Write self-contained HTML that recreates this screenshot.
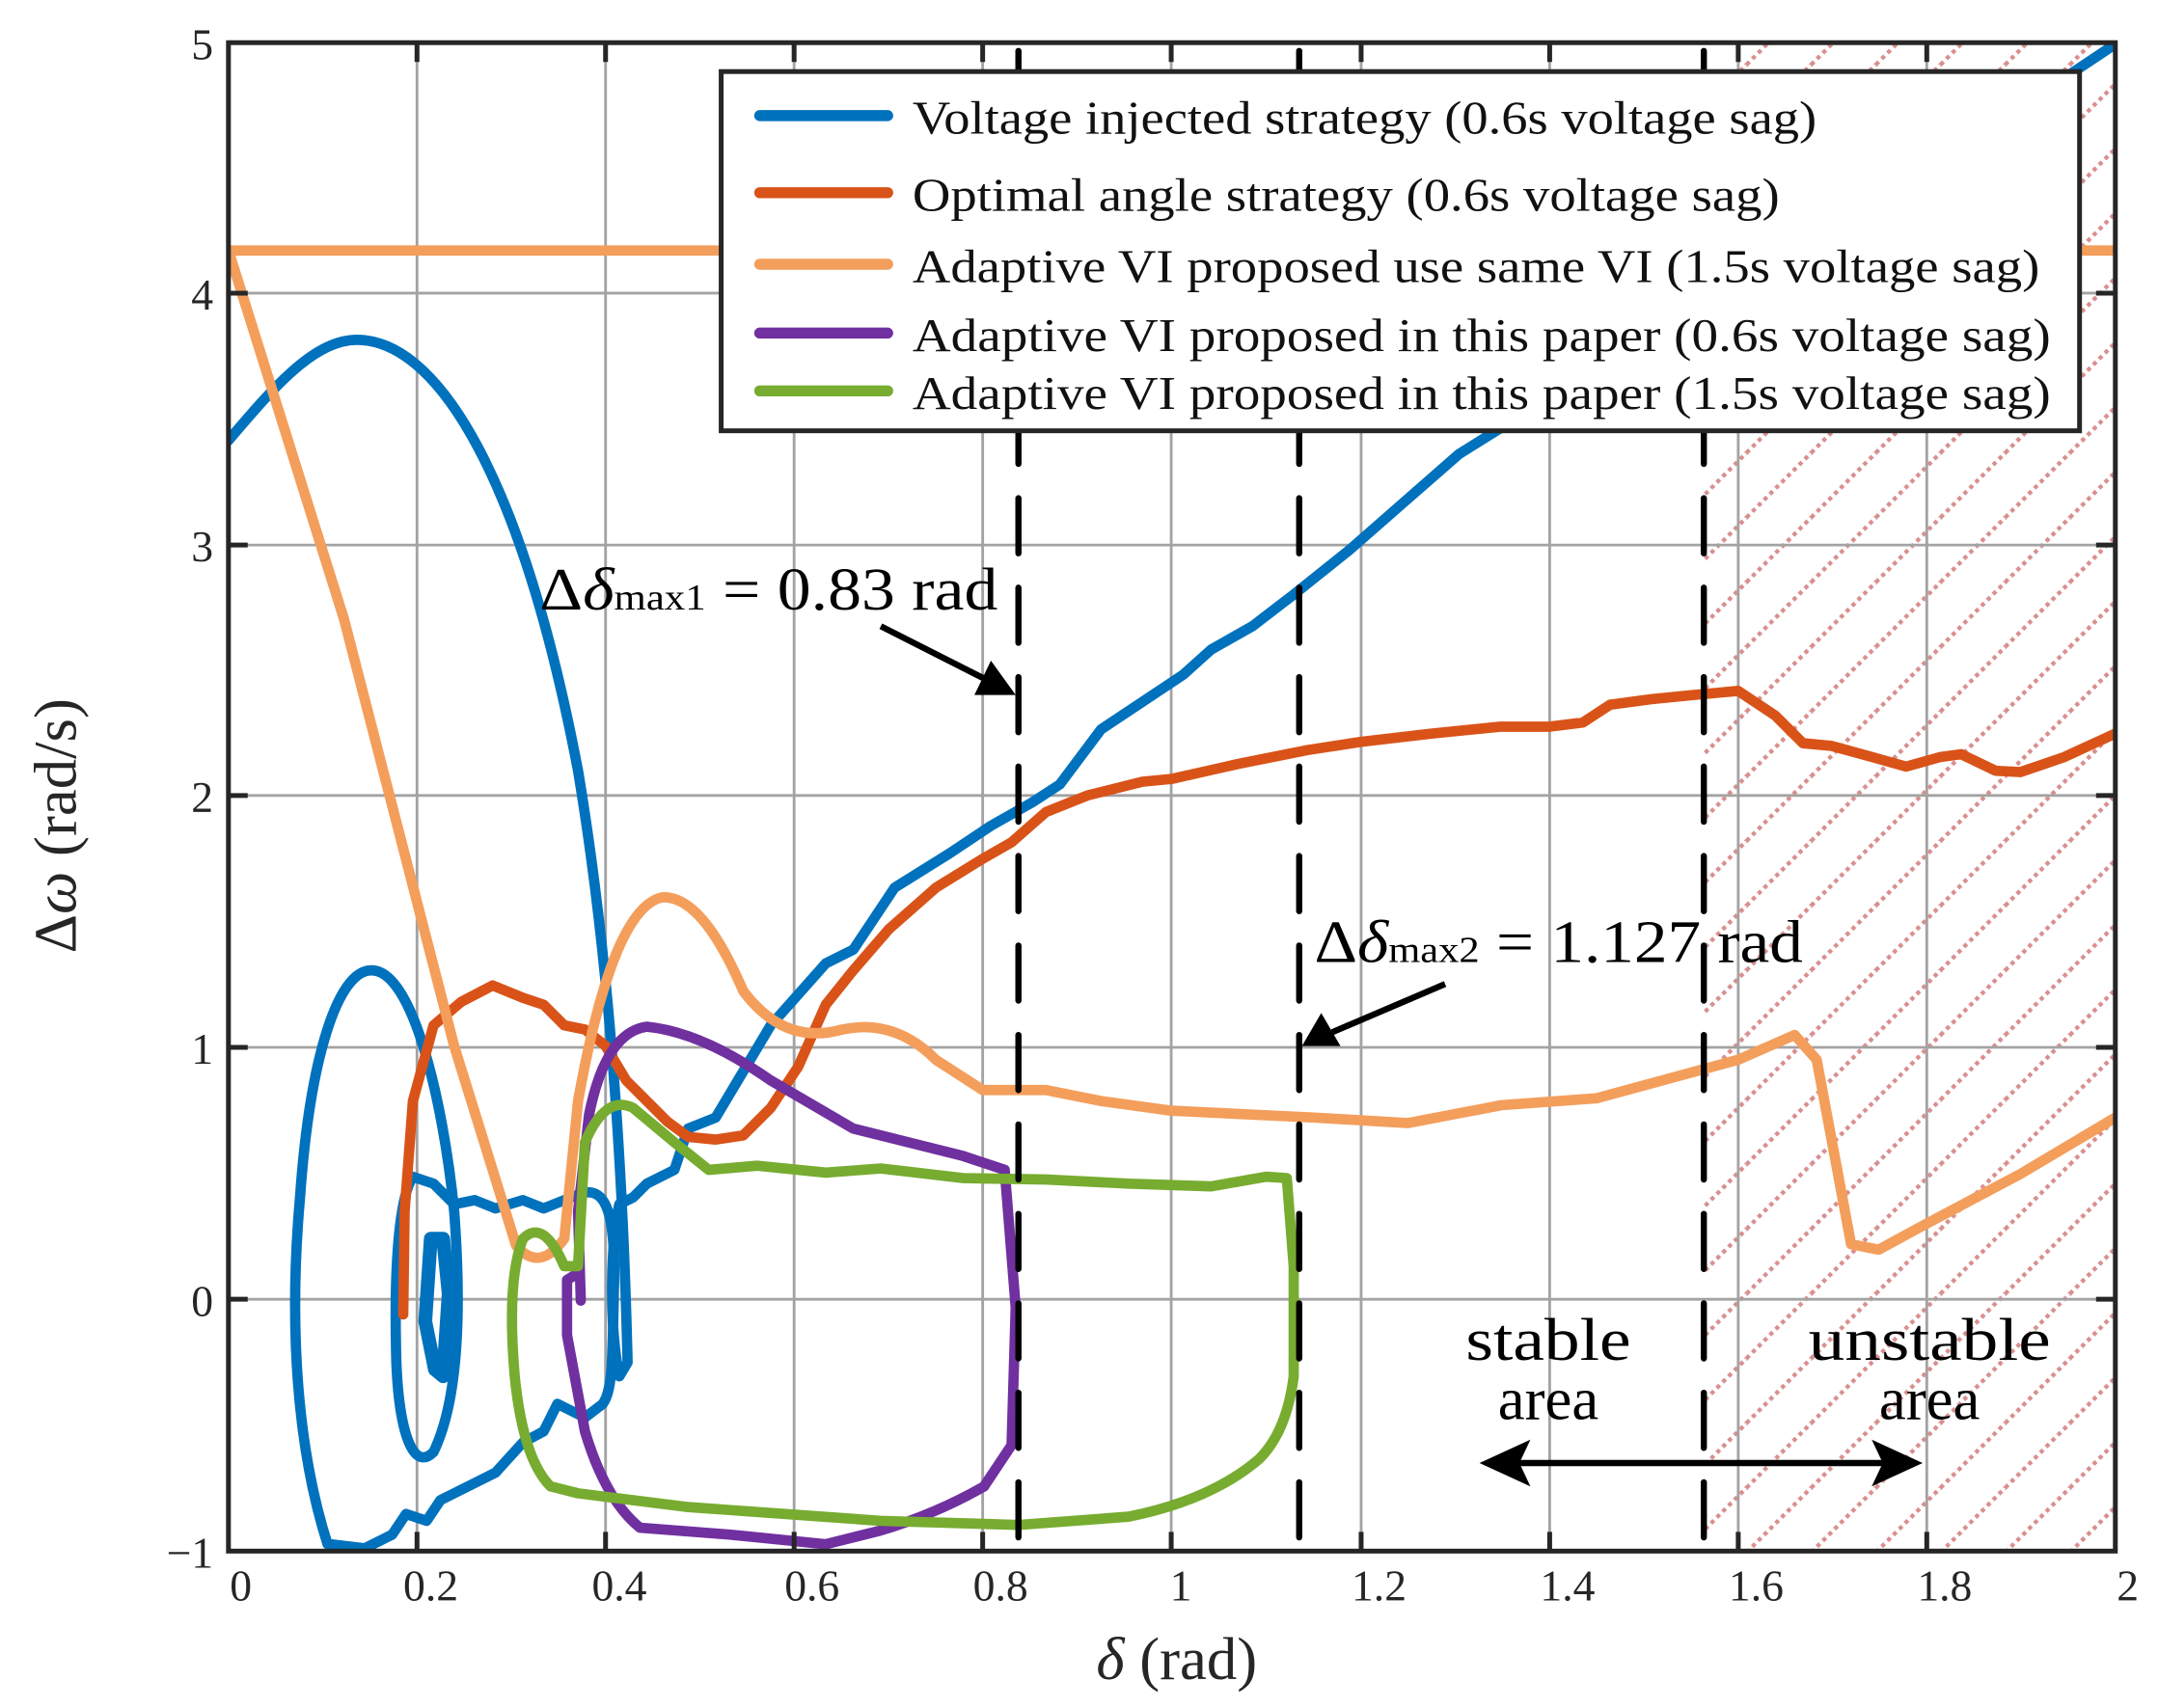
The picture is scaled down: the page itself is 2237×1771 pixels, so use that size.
<!DOCTYPE html>
<html><head><meta charset="utf-8"><style>html,body{margin:0;padding:0;background:#fff}svg{display:block}</style></head>
<body>
<svg width="2237" height="1771" viewBox="0 0 1568 1241" preserveAspectRatio="none" xmlns="http://www.w3.org/2000/svg" font-family="Liberation Serif, serif">
<defs>
<pattern id="h" patternUnits="userSpaceOnUse" width="47" height="47">
<line x1="0" y1="47" x2="47" y2="0" stroke="#d98e8e" stroke-width="3" stroke-dasharray="3,3"/>
<line x1="-5" y1="5" x2="5" y2="-5" stroke="#d98e8e" stroke-width="3" stroke-dasharray="3,3"/>
<line x1="42" y1="52" x2="52" y2="42" stroke="#d98e8e" stroke-width="3" stroke-dasharray="3,3"/>
</pattern>
<clipPath id="c"><rect x="166" y="31" width="1371" height="1096"/></clipPath>
</defs>
<rect x="1238" y="31" width="299" height="1096" fill="url(#h)"/>
<g stroke="#a3a3a3" stroke-width="2">
<line x1="303" y1="31" x2="303" y2="1127"/><line x1="440" y1="31" x2="440" y2="1127"/><line x1="577" y1="31" x2="577" y2="1127"/><line x1="714" y1="31" x2="714" y2="1127"/><line x1="851" y1="31" x2="851" y2="1127"/><line x1="989" y1="31" x2="989" y2="1127"/><line x1="1126" y1="31" x2="1126" y2="1127"/><line x1="1263" y1="31" x2="1263" y2="1127"/><line x1="1400" y1="31" x2="1400" y2="1127"/>
<line x1="166" y1="213" x2="1537" y2="213"/><line x1="166" y1="396" x2="1537" y2="396"/><line x1="166" y1="578" x2="1537" y2="578"/><line x1="166" y1="761" x2="1537" y2="761"/><line x1="166" y1="944" x2="1537" y2="944"/>
</g>
<g fill="none" stroke-width="7.5" stroke-linejoin="round" stroke-linecap="round" clip-path="url(#c)">
<path stroke="#0072bd" d="M166,320 C200,280 230,245 262,247 C320,250 380,350 420,560 C440,680 452,820 456,990 L450,1000 C442,960 444,900 450,875 L460,870 L470,860 L490,850 L500,820 L520,812 L560,745 L600,700 L620,690 L650,645 L690,620 L720,600 L750,583 L770,570 L800,530 L830,510 L860,490 L880,472 L910,455 L940,432 L980,400 L1020,365 L1060,330 L1100,305 L1200,250 L1480,70 L1537,32"/>
<path stroke="#0072bd" d="M238,1122 C215,1050 210,960 218,870 C225,770 245,705 270,705 C300,705 322,800 330,880 C336,960 332,1020 315,1055 C300,1070 290,1040 288,990 C286,920 290,870 300,855 L315,860 L330,875 L345,872 L360,878 L380,872 L395,878 L420,868 C440,860 448,880 446,940 C445,990 445,1010 438,1020 L425,1030 L415,1025 L405,1020 L395,1040 L380,1048 L360,1070 L340,1080 L320,1090 L310,1105 L295,1100 L285,1115 L265,1125 L240,1122"/>
<path stroke="#0072bd" stroke-width="10" d="M313,900 L309,960 L316,995 L322,1000 L326,940 L322,900 Z"/>
<path stroke="#d95319" d="M293,955 L294,880 L300,800 L315,745 L335,728 L358,716 L380,725 L395,730 L410,745 L425,748 L440,760 L455,785 L470,800 L485,815 L500,826 L520,828 L540,825 L560,805 L580,775 L600,730 L620,705 L646,675 L680,645 L714,624 L735,612 L760,590 L790,578 L830,568 L851,566 L900,555 L950,545 L989,539 L1040,533 L1090,528 L1126,528 L1150,525 L1170,512 L1200,508 L1230,505 L1263,502 L1290,520 L1310,540 L1331,542 L1360,550 L1385,557 L1410,550 L1425,548 L1450,560 L1468,561 L1500,550 L1537,533"/>
<path stroke="#f49e5c" d="M166,182 L1537,182"/>
<path stroke="#f49e5c" d="M166,182 L250,450 L330,760 L375,905 Q392,925 410,900 L420,800 Q445,660 481,652 Q510,650 540,720 Q570,760 612,748 Q650,740 680,770 L714,792 L760,792 L800,800 L851,807 L955,812 L1023,816 L1091,803 L1160,798 L1263,770 L1304,752 L1320,770 L1345,904 L1365,908 L1400,889 L1468,853 L1537,812"/>
<path stroke="#7030a0" d="M422,945 L420,880 L428,810 Q440,750 470,746 Q510,750 560,785 L620,820 L660,830 L700,840 L730,850 L738,950 L735,1050 L715,1080 Q680,1100 640,1112 L600,1122 L530,1115 L465,1110 Q440,1090 425,1040 L412,970 L412,930 L420,925"/>
<path stroke="#77ac30" d="M400,1080 Q380,1060 374,1000 Q368,930 380,900 Q395,885 410,920 L420,920 L425,830 Q440,795 460,805 L490,830 L515,850 L550,847 L600,852 L640,849 L700,856 L760,857 L820,860 L880,862 L920,855 L935,856 L940,920 L940,1000 Q935,1040 915,1060 Q880,1090 820,1102 L740,1108 L640,1105 L500,1095 L420,1085 L400,1080"/>
</g>
<g stroke="#000" stroke-width="4.5" stroke-dasharray="40,25" stroke-linecap="round">
<line x1="740" y1="1117" x2="740" y2="35"/><line x1="944" y1="1117" x2="944" y2="35"/><line x1="1238" y1="1117" x2="1238" y2="35"/>
</g>
<rect x="166" y="31" width="1371" height="1096" fill="none" stroke="#262626" stroke-width="3.5"/>
<g stroke="#262626" stroke-width="3.5">
<path d="M303,1127v-14M440,1127v-14M577,1127v-14M714,1127v-14M851,1127v-14M989,1127v-14M1126,1127v-14M1263,1127v-14M1400,1127v-14M303,31v14M440,31v14M577,31v14M714,31v14M851,31v14M989,31v14M1126,31v14M1263,31v14M1400,31v14"/>
<path d="M166,213h14M166,396h14M166,578h14M166,761h14M166,944h14M1537,213h-14M1537,396h-14M1537,578h-14M1537,761h-14M1537,944h-14"/>
</g>
<g font-size="32" fill="#262626" text-anchor="middle">
<text x="175" y="1163">0</text><text x="313" y="1163">0.2</text><text x="450" y="1163">0.4</text><text x="590" y="1163">0.6</text><text x="727" y="1163">0.8</text><text x="858" y="1163">1</text><text x="1002" y="1163">1.2</text><text x="1139" y="1163">1.4</text><text x="1276" y="1163">1.6</text><text x="1413" y="1163">1.8</text><text x="1546" y="1163">2</text>
</g>
<g font-size="32" fill="#262626" text-anchor="end">
<text x="155" y="43">5</text><text x="155" y="225">4</text><text x="155" y="408">3</text><text x="155" y="590">2</text><text x="155" y="773">1</text><text x="155" y="956">0</text><text x="155" y="1139">−1</text>
</g>
<text x="855" y="1220" font-size="44" text-anchor="middle" fill="#262626"><tspan font-style="italic">δ</tspan> (rad)</text>
<text transform="translate(55,600) rotate(-90)" font-size="44" text-anchor="middle" fill="#262626">Δ<tspan font-style="italic">ω</tspan> (rad/s)</text>
<rect x="524" y="52" width="987" height="261" fill="#fff" stroke="#262626" stroke-width="3.5"/>
<g stroke-width="8" stroke-linecap="round">
<line x1="552" y1="84" x2="645" y2="84" stroke="#0072bd"/><line x1="552" y1="140" x2="645" y2="140" stroke="#d95319"/><line x1="552" y1="192" x2="645" y2="192" stroke="#f49e5c"/><line x1="552" y1="242" x2="645" y2="242" stroke="#7030a0"/><line x1="552" y1="284" x2="645" y2="284" stroke="#77ac30"/>
</g>
<g font-size="34" fill="#111">
<text x="663" y="97" textLength="657" lengthAdjust="spacingAndGlyphs">Voltage injected strategy (0.6s voltage sag)</text>
<text x="663" y="153" textLength="630" lengthAdjust="spacingAndGlyphs">Optimal angle strategy (0.6s voltage sag)</text>
<text x="663" y="205" textLength="819" lengthAdjust="spacingAndGlyphs">Adaptive VI proposed use same VI (1.5s voltage sag)</text>
<text x="663" y="255" textLength="827" lengthAdjust="spacingAndGlyphs">Adaptive VI proposed in this paper (0.6s voltage sag)</text>
<text x="663" y="297" textLength="827" lengthAdjust="spacingAndGlyphs">Adaptive VI proposed in this paper (1.5s voltage sag)</text>
</g>
<g fill="#000" font-size="44">
<text x="392" y="443" textLength="333" lengthAdjust="spacingAndGlyphs">Δ<tspan font-style="italic">δ</tspan><tspan font-size="27">max1</tspan> = 0.83 rad</text>
<text x="955" y="699" textLength="355" lengthAdjust="spacingAndGlyphs">Δ<tspan font-style="italic">δ</tspan><tspan font-size="27">max2</tspan> = 1.127 rad</text>
<text x="1125" y="988" text-anchor="middle" textLength="120" lengthAdjust="spacingAndGlyphs">stable</text><text x="1125" y="1031" text-anchor="middle">area</text>
<text x="1402" y="988" text-anchor="middle" textLength="176" lengthAdjust="spacingAndGlyphs">unstable</text><text x="1402" y="1031" text-anchor="middle">area</text>
</g>
<g stroke="#000" stroke-width="4.5">
<line x1="640" y1="455" x2="715" y2="493"/><line x1="1050" y1="715" x2="968" y2="750"/><line x1="1100" y1="1063" x2="1370" y2="1063"/>
</g>
<polygon points="738,505 708,505 720,480" fill="#000"/>
<polygon points="946,760 960,736 974,760" fill="#000"/>
<polygon points="1075,1063 1112,1046 1104,1063 1112,1080" fill="#000"/>
<polygon points="1397,1063 1360,1046 1368,1063 1360,1080" fill="#000"/>
</svg>
</body></html>
